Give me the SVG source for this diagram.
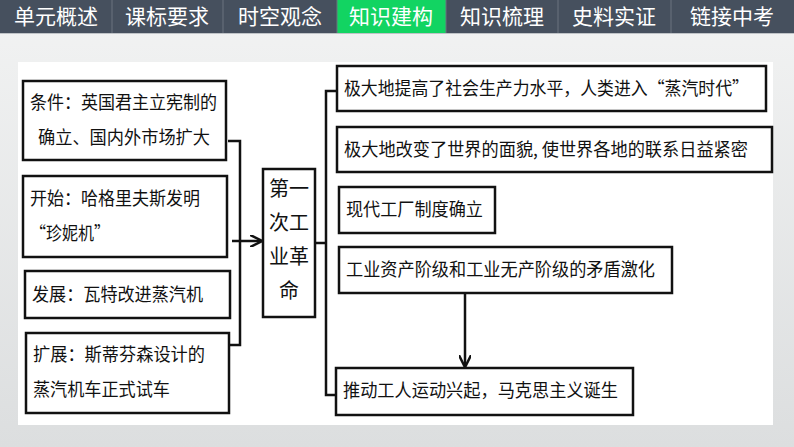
<svg xmlns="http://www.w3.org/2000/svg" width="794" height="447" viewBox="0 0 794 447">
<defs>
<style>
.tab{fill:#46505e}
.tt{font-family:"Noto Sans CJK SC",sans-serif;font-size:21px;fill:#fff;text-anchor:middle}
.box{fill:#fff;stroke:#111;stroke-width:2.5}
.t{font-family:"Noto Sans CJK SC",sans-serif;font-size:18px;fill:#111}
.c{font-family:"Noto Sans CJK SC",sans-serif;font-size:20px;fill:#111}
.ln{fill:none;stroke:#111;stroke-width:2.5}
</style>
<marker id="ah" viewBox="0 0 10 10" refX="9" refY="5" markerWidth="5" markerHeight="5" orient="auto"><path d="M0,0 L10,5 L0,10" fill="none" stroke="#111" stroke-width="2"/></marker>
<linearGradient id="bg" x1="0" y1="0" x2="0" y2="1"><stop offset="0" stop-color="#f2f3f3"/><stop offset="1" stop-color="#dcdedf"/></linearGradient>
</defs>
<rect width="794" height="447" fill="url(#bg)"/>
<g id="nav">
<rect x="0" y="0" width="794" height="33" class="tab"/>
<rect x="337" y="0" width="109" height="33" fill="#12d462"/>
<g stroke="#6a737f" stroke-width="1"><line x1="112" y1="0" x2="112" y2="33"/><line x1="223" y1="0" x2="223" y2="33"/><line x1="337" y1="0" x2="337" y2="33"/><line x1="446" y1="0" x2="446" y2="33"/><line x1="558" y1="0" x2="558" y2="33"/><line x1="671" y1="0" x2="671" y2="33"/></g>
<line x1="0" y1="33.5" x2="794" y2="33.5" stroke="#bfc3c7" stroke-width="1"/>
<text class="tt" x="56" y="24">单元概述</text>
<text class="tt" x="167" y="24">课标要求</text>
<text class="tt" x="280" y="24">时空观念</text>
<text class="tt" x="391" y="24">知识建构</text>
<text class="tt" x="502" y="24">知识梳理</text>
<text class="tt" x="614" y="24">史料实证</text>
<text class="tt" x="732" y="24">链接中考</text>
</g>
<rect x="18" y="62" width="755" height="363" fill="#fff"/>
<g id="connectors">
<path class="ln" d="M228,141 H240 V345 H230"/>
<line class="ln" x1="232" y1="241" x2="261" y2="241" marker-end="url(#ah)"/>
<path class="ln" d="M316,243 H326 M336,91 H326 V395 H336"/>
<line class="ln" x1="465" y1="293" x2="465" y2="366" marker-end="url(#ah)"/>
</g>
<g id="n1"><rect class="box" x="23" y="81" width="203" height="79"/><text class="t" x="30" y="109" textLength="187" lengthAdjust="spacingAndGlyphs">条件：英国君主立宪制的</text><text class="t" x="38" y="144" textLength="172" lengthAdjust="spacingAndGlyphs">确立、国内外市场扩大</text></g>
<g id="n2"><rect class="box" x="23" y="176" width="204" height="81"/><text class="t" x="30" y="205" textLength="170" lengthAdjust="spacingAndGlyphs">开始：哈格里夫斯发明</text><text class="t" x="30" y="240" textLength="80" lengthAdjust="spacingAndGlyphs">“珍妮机”</text></g>
<g id="n3"><rect class="box" x="25" y="271" width="205" height="47"/><text class="t" x="32" y="301" textLength="171" lengthAdjust="spacingAndGlyphs">发展：瓦特改进蒸汽机</text></g>
<g id="n4"><rect class="box" x="26" y="333" width="203" height="80"/><text class="t" x="33" y="361" textLength="172" lengthAdjust="spacingAndGlyphs">扩展：斯蒂芬森设计的</text><text class="t" x="33" y="396" textLength="137" lengthAdjust="spacingAndGlyphs">蒸汽机车正式试车</text></g>
<g id="center"><rect class="box" x="263" y="169" width="52" height="148"/><text class="c" x="269" y="196">第一</text><text class="c" x="269" y="230">次工</text><text class="c" x="269" y="264">业革</text><text class="c" x="279" y="298">命</text></g>
<g id="r1"><rect class="box" x="337" y="66" width="429" height="45"/><text class="t" x="344" y="95" textLength="405" lengthAdjust="spacingAndGlyphs">极大地提高了社会生产力水平，人类进入“蒸汽时代”</text></g>
<g id="r2"><rect class="box" x="337" y="127" width="435" height="45"/><text class="t" x="344" y="156" textLength="404" lengthAdjust="spacingAndGlyphs">极大地改变了世界的面貌, 使世界各地的联系日益紧密</text></g>
<g id="r3"><rect class="box" x="339" y="187" width="156" height="46"/><text class="t" x="346" y="216" textLength="137" lengthAdjust="spacingAndGlyphs">现代工厂制度确立</text></g>
<g id="r4"><rect class="box" x="339" y="247" width="333" height="46"/><text class="t" x="346" y="276" textLength="309" lengthAdjust="spacingAndGlyphs">工业资产阶级和工业无产阶级的矛盾激化</text></g>
<g id="r5"><rect class="box" x="336" y="368" width="297" height="47"/><text class="t" x="343" y="397" textLength="275" lengthAdjust="spacingAndGlyphs">推动工人运动兴起，马克思主义诞生</text></g>
</svg>
